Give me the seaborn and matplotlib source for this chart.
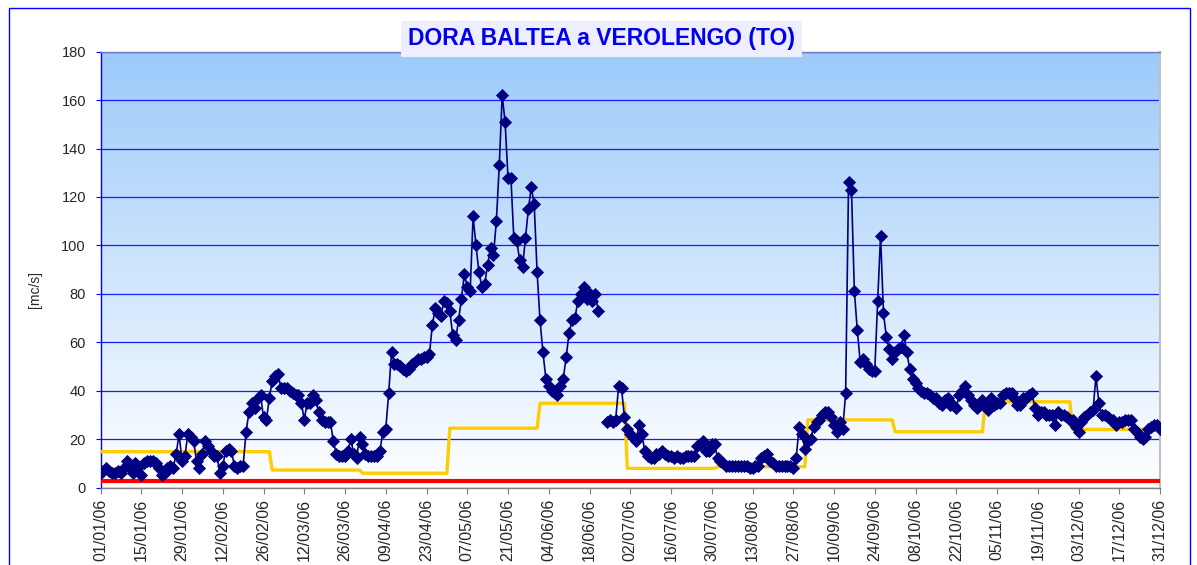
import numpy as np
import pandas as pd
import matplotlib
matplotlib.use("Agg")
import matplotlib.pyplot as plt
from matplotlib.colors import LinearSegmentedColormap
from matplotlib.patches import Rectangle
import seaborn as sns

nan = np.nan

# daily discharge 2006 [mc/s], one list per month
jan = [6, 7, 8, 7, 6, 6, 7, 6, 8, 11, 8, 6, 10, 9, 5, 10, 11, 11, 11, 10,
       8, 5, 6, 8, 9, 8, 14, 22, 11, 13, 22]
feb = [21, 19, 11, 8, 14, 19, 17, 15, 13, 13, 6, 9, 15, 16, 15, 9, 8, 9, 9, 23,
       31, 35, 33, 37, 38, 29, 28, 37]
mar = [44, 46, 47, 41, 41, 41, 40, 39, 38, 38, 35, 28, 35, 35, 38, 36, 31, 28, 27, 27,
       27, 19, 14, 13, 13, 13, 15, 20, 14, 12, 21]
apr = [18, 14, 13, 13, 13, 13, 15, 23, 24, 39, 56, 51, 51, 50, 49, 48, 49, 51, 52, 53,
       53, 54, 54, 55, 67, 74, 72, 71, 77, 76]
may = [73, 63, 61, 69, 78, 88, 83, 81, 112, 100, 89, 83, 84, 92, 99, 96, 110, 133, 162, 151,
       128, 128, 103, 102, 94, 91, 103, 115, 124, 117, 89]
jun = [69, 56, 45, 42, 40, 39, 38, 42, 45, 54, 64, 69, 70, 77, 80, 83, 78, 80, 77, 80,
       73, nan, nan, 27, 28, 27, 28, 42, 41, 29]
jul = [24, 22, 21, 19, 26, 22, 15, 13, 12, 12, 14, 14, 15, 14, 13, 13, 12, 13, 12, 12,
       13, 13, 13, 13, 17, 18, 19, 15, 15, 18, 18]
aug = [12, 11, 10, 9, 9, 9, 9, 9, 9, 9, 9, 8, 8, 9, 9, 12, 13, 14, 11, 10,
       9, 9, 9, 9, 9, 9, 8, 12, 25, 22, 16]
sep = [19, 20, 25, 27, 28, 30, 31, 31, 29, 26, 23, 27, 24, 39, 126, 123, 81, 65, 52, 53,
       51, 49, 48, 48, 77, 104, 72, 62, 57, 53]
oct_ = [56, 57, 58, 63, 56, 49, 45, 43, 41, 40, 39, 39, 38, 37, 37, 35, 34, 36, 37, 34,
        34, 33, 38, 40, 42, 38, 36, 34, 33, 34, 36]
nov = [34, 32, 37, 34, 35, 35, 38, 39, 39, 39, 37, 34, 34, 37, 37, 38, 39, 33, 30, 31,
       31, 30, 30, 30, 26, 31, 30, 30, 29, 28]
dec = [28, 25, 23, 27, 29, 30, 31, 32, 46, 35, 30, 30, 29, 28, 28, 26, 27, 27, 28, 28,
       28, 24, 23, 21, 20, 21, 24, 25, 26, 26, 24]

# monthly minimum flow (yellow step) and constant threshold (red)
dmv_monthly = [14.8, 14.8, 7.2, 5.9, 24.5, 34.8, 7.9, 8.6, 27.9, 23.0, 35.4, 24.0]
red_level = 2.8

y_ticks = list(range(0, 181, 20))
title = "DORA BALTEA a VEROLENGO (TO)"
y_label = "[mc/s]"

dates = pd.date_range("2006-01-01", "2006-12-31", freq="D")
flow = jan + feb + mar + apr + may + jun + jul + aug + sep + oct_ + nov + dec

df = pd.DataFrame({"date": dates, "day": np.arange(len(dates)), "flow": flow})
df["dmv"] = [dmv_monthly[d.month - 1] for d in dates]
df["soglia"] = red_level
df["seg"] = df["flow"].isna().cumsum()
obs = df.dropna(subset=["flow"])

sns.set_theme(style="white")
plt.rcParams["font.family"] = ["Liberation Sans", "DejaVu Sans"]

W, H = 1197, 565
fig = plt.figure(figsize=(W / 100, H / 100), dpi=100)
left, right, top, bottom = 100.5, 1160, 51.7, 487.5
ax = fig.add_axes([left / W, 1 - bottom / H, (right - left) / W, (bottom - top) / H])

# background gradient
sky = LinearSegmentedColormap.from_list("sky", ["#ffffff", "#9ccafa"])
grad = np.linspace(1, 0, 256).reshape(-1, 1)
ax.imshow(grad, cmap=sky, extent=[0, 364, 0, 180], aspect="auto", zorder=0)

sns.lineplot(data=df, x="day", y="soglia", color="#ff0000", lw=3, ax=ax, zorder=3)
sns.lineplot(data=df, x="day", y="dmv", color="#ffcc00", lw=2.4, ax=ax, zorder=4)
sns.lineplot(data=obs, x="day", y="flow", units="seg", estimator=None,
             color="#000080", lw=1.2, marker="D", markersize=6,
             markeredgecolor="#000080", markeredgewidth=0.6, ax=ax, zorder=5)

ax.set_xlim(0, 364)
ax.set_ylim(0, 180)
ax.set_yticks(y_ticks)
xt = list(range(0, 365, 14))
ax.set_xticks(xt)
ax.set_xticklabels(dates[xt].strftime("%d/%m/%y"))
ax.set_xlabel("")
ax.set_ylabel("")

ax.set_axisbelow(True)
ax.yaxis.grid(True, color="#1a1aff", lw=0.9)
ax.xaxis.grid(False)

ax.tick_params(axis="x", direction="out", length=4, width=0.8, color="#808080",
               labelsize=11.5, pad=4, rotation=90, bottom=True)
ax.tick_params(axis="y", direction="out", length=3.5, width=0.8, color="#0000ff",
               labelsize=10.5, pad=7, left=True)

ax.spines["left"].set_color("#0000ff")
ax.spines["left"].set_linewidth(1)
ax.spines["bottom"].set_color("#808080")
ax.spines["bottom"].set_linewidth(1)
ax.spines["right"].set_color("#c0c0c0")
ax.spines["right"].set_linewidth(1.5)
ax.spines["top"].set_color("#7878c8")
ax.spines["top"].set_linewidth(1)

fig.text(35 / W, 1 - 290 / H, y_label, rotation=90, ha="center", va="center", fontsize=10)

fig.text(601.7 / W, 1 - 39 / H, title, ha="center", va="center", fontsize=16.5,
         fontweight="bold", color="#0000ee", zorder=10,
         bbox=dict(boxstyle="square,pad=0.3", facecolor="#eeeeff", edgecolor="none"))

fig.add_artist(Rectangle((9 / W, -0.1), (1190 - 9) / W, 1 - 8 / H + 0.1,
                         transform=fig.transFigure, fill=False,
                         edgecolor="#0000ff", lw=1))

fig.savefig("out.png", dpi=100)
